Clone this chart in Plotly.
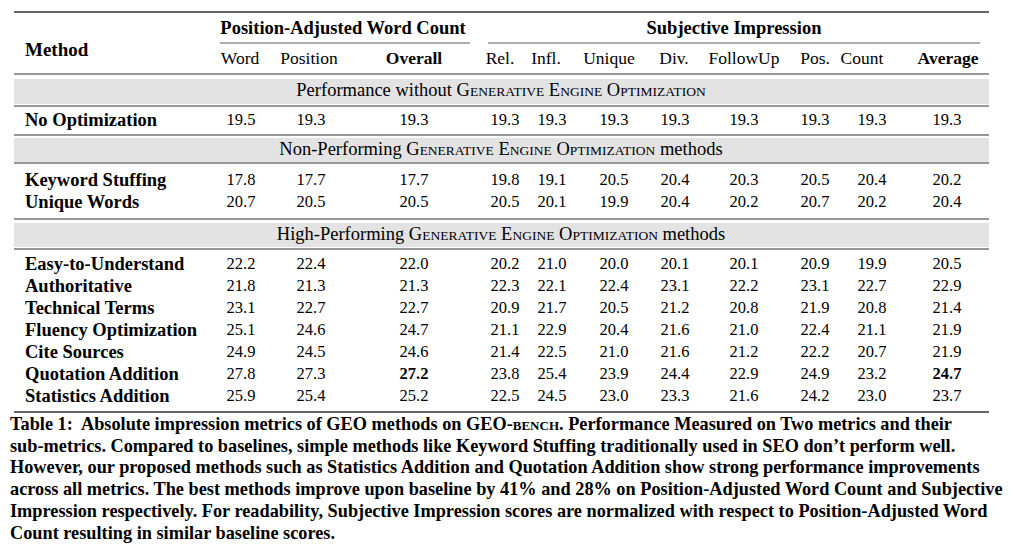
import plotly.graph_objects as go

# table data
methods = ["No Optimization",
           "Keyword Stuffing", "Unique Words",
           "Easy-to-Understand", "Authoritative", "Technical Terms",
           "Fluency Optimization", "Cite Sources", "Quotation Addition",
           "Statistics Addition"]
columns = ["Word", "Position", "Overall", "Rel.", "Infl.", "Unique", "Div.",
           "FollowUp", "Pos.", "Count", "Average"]
word = [19.5, 17.8, 20.7, 22.2, 21.8, 23.1, 25.1, 24.9, 27.8, 25.9]
position = [19.3, 17.7, 20.5, 22.4, 21.3, 22.7, 24.6, 24.5, 27.3, 25.4]
overall = [19.3, 17.7, 20.5, 22.0, 21.3, 22.7, 24.7, 24.6, 27.2, 25.2]
rel = [19.3, 19.8, 20.5, 20.2, 22.3, 20.9, 21.1, 21.4, 23.8, 22.5]
infl = [19.3, 19.1, 20.1, 21.0, 22.1, 21.7, 22.9, 22.5, 25.4, 24.5]
unique = [19.3, 20.5, 19.9, 20.0, 22.4, 20.5, 20.4, 21.0, 23.9, 23.0]
div = [19.3, 20.4, 20.4, 20.1, 23.1, 21.2, 21.6, 21.6, 24.4, 23.3]
followup = [19.3, 20.3, 20.2, 20.1, 22.2, 20.8, 21.0, 21.2, 22.9, 21.6]
pos = [19.3, 20.5, 20.7, 20.9, 23.1, 21.9, 22.4, 22.2, 24.9, 24.2]
count = [19.3, 20.4, 20.2, 19.9, 22.7, 20.8, 21.1, 20.7, 23.2, 23.0]
average = [19.3, 20.2, 20.4, 20.5, 22.9, 21.4, 21.9, 21.9, 24.7, 23.7]
values = [word, position, overall, rel, infl, unique, div, followup, pos, count, average]

# layout helpers (pixel positions in the page)
W, H = 1014, 555
OFF = 8  # body margin of the html page
FONT = "Liberation Serif"
row_y = [121, 181, 203, 265, 287, 309, 331, 353, 375, 397]
head_x = [240, 309, 414, 500, 546, 609, 674, 744, 815, 862, 948]
num_x = [241, 311, 414, 505, 552, 614, 675, 744, 815, 872, 947]
L, R = 14, 989


def sc(s, small=13.5):
    # fake small caps
    out = []
    for w in s.split(" "):
        out.append(w[0] + "<span style='font-size:%gpx'>%s</span>" % (small, w[1:].upper()))
    return " ".join(out)


GEO = sc("Generative Engine Optimization")

fig = go.Figure()

# gray bands
for y0, y1 in [(79, 104), (138, 162), (223, 247)]:
    fig.add_shape(type="rect", x0=L, x1=R, y0=y0, y1=y1, fillcolor="#e3e3e3",
                  line_width=0, layer="below")

# rules
rules = [(12, 1.6, L, R), (74, 1.2, L, R), (106, 1.0, L, R), (135, 1.2, L, R),
         (163, 1.0, L, R), (219, 1.2, L, R), (249, 1.0, L, R), (412, 1.6, L, R),
         (43, 0.8, 220, 470), (43, 0.8, 488, 980)]
for y, w, a, b in rules:
    fig.add_shape(type="line", x0=a, x1=b, y0=y, y1=y,
                  line=dict(color="#333333", width=w))

# header
fig.add_trace(go.Scatter(x=[25], y=[51], text=["<b>Method</b>"], mode="text",
                         textposition="middle right",
                         textfont=dict(family=FONT, size=19, color="black")))
fig.add_trace(go.Scatter(x=[343, 734], y=[29, 29],
                         text=["<b>Position-Adjusted Word Count</b>", "<b>Subjective Impression</b>"],
                         mode="text", textposition="middle center",
                         textfont=dict(family=FONT, size=18.5, color="black")))
head_txt = ["<b>%s</b>" % c if c in ("Overall", "Average") else c for c in columns]
fig.add_trace(go.Scatter(x=head_x, y=[60] * len(columns), text=head_txt, mode="text",
                         textposition="middle center",
                         textfont=dict(family=FONT, size=17.5, color="black")))

# section titles
sections = ["Performance without " + GEO,
            "Non-Performing " + GEO + " methods",
            "High-Performing " + GEO + " methods"]
fig.add_trace(go.Scatter(x=[501, 501, 501], y=[91, 150, 235], text=sections, mode="text",
                         textposition="middle center",
                         textfont=dict(family=FONT, size=18.5, color="black")))

# method names
fig.add_trace(go.Scatter(x=[25] * len(methods), y=row_y,
                         text=["<b>%s</b>" % m for m in methods], mode="text",
                         textposition="middle right",
                         textfont=dict(family=FONT, size=18.5, color="black")))

# numbers
for j, col in enumerate(values):
    best = max(col) if columns[j] in ("Overall", "Average") else None
    txt = ["<b>%.1f</b>" % v if v == best else "%.1f" % v for v in col]
    fig.add_trace(go.Scatter(x=[num_x[j]] * len(col), y=row_y, text=txt, mode="text",
                             textposition="middle center",
                             textfont=dict(family=FONT, size=16.5, color="black")))

# caption
caption = [
    "Table 1:  Absolute impression metrics of GEO methods on GEO-" + "<span style='font-size:13px'>BENCH</span>"
    + ". Performance Measured on Two metrics and their",
    "sub-metrics. Compared to baselines, simple methods like Keyword Stuffing traditionally used in SEO don’t perform well.",
    "However, our proposed methods such as Statistics Addition and Quotation Addition show strong performance improvements",
    "across all metrics. The best methods improve upon baseline by 41% and 28% on Position-Adjusted Word Count and Subjective",
    "Impression respectively. For readability, Subjective Impression scores are normalized with respect to Position-Adjusted Word",
    "Count resulting in similar baseline scores.",
]
cap_y = [425, 447, 468, 490, 512, 534]
fig.add_trace(go.Scatter(x=[10] * len(caption), y=cap_y, text=["<b>%s</b>" % c for c in caption],
                         mode="text", textposition="middle right",
                         textfont=dict(family=FONT, size=18.3, color="black")))

fig.update_layout(
    width=W, height=H, margin=dict(l=0, r=0, t=0, b=0),
    showlegend=False, plot_bgcolor="white", paper_bgcolor="white",
    xaxis=dict(range=[OFF, W + OFF], visible=False, fixedrange=True),
    yaxis=dict(range=[H + OFF, OFF], visible=False, fixedrange=True),
)

fig.write_html("out.html")
